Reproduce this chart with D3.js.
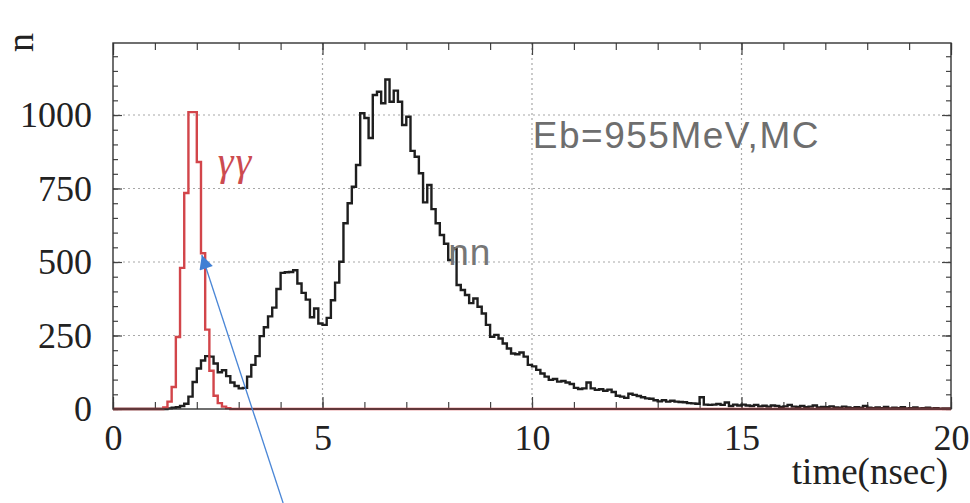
<!DOCTYPE html>
<html>

<head>
    <title>timeHist</title>
</head>
<style>
    body {
        margin: 0;
        background: #fff;
    }

    .tick text {
        font-family: "Liberation Serif", "Times New Roman", serif;
        font-size: 36px;
        fill: #222;
    }
</style>

<body>
    <script src="https://d3js.org/d3.v7.min.js"></script>
    <svg width="970" height="503" id="mainsvg"></svg>

    <script>
        // bins of 0.1 nsec from 0 to 20, one row per nsec
        const binWidth = 0.1;
        const timeRange = [0, 20];
        const countMax = 1245;

        const nnCounts = [
            0, 0, 0, 0, 0, 0, 0, 0, 0, 0,
            0, 0, 0, 2, 4, 6, 10, 18, 42, 92,
            138, 165, 180, 178, 155, 125, 132, 112, 90, 78,
            70, 72, 110, 150, 180, 248, 278, 315, 345, 408,
            463, 465, 466, 472, 427, 395, 372, 312, 342, 291,
            286, 310, 370, 430, 501, 632, 700, 756, 830, 1006,
            990, 922, 1068, 1079, 1040, 1121, 1045, 1083, 1045, 966,
            994, 878, 858, 802, 703, 762, 680, 632, 592, 562,
            507, 546, 422, 405, 388, 360, 376, 348, 325, 286,
            246, 252, 240, 223, 206, 189, 186, 192, 178, 150,
            145, 133, 121, 110, 99, 102, 93, 95, 90, 85,
            72, 68, 70, 90, 70, 65, 67, 62, 66, 58,
            45, 42, 38, 52, 48, 44, 40, 36, 35, 30,
            26, 30, 25, 28, 25, 24, 23, 20, 19, 18,
            40, 15, 14, 15, 17, 14, 22, 10, 15, 12,
            15, 12, 10, 14, 9, 11, 8, 12, 10, 7,
            9, 14, 8, 7, 10, 6, 8, 12, 5, 7,
            6, 9, 5, 4, 8, 5, 3, 6, 4, 10,
            4, 3, 5, 3, 7, 2, 4, 3, 6, 2,
            3, 5, 2, 3, 4, 2, 3, 1, 2, 2
        ];

        const ggCounts = [
            0, 0, 0, 0, 0, 0, 0, 0, 0, 0,
            0, 0, 5, 25, 75, 245, 480, 735, 1010, 1010,
            840, 530, 270, 130, 45, 20, 8, 3, 0, 0,
            0, 0, 0, 0, 0, 0, 0, 0, 0, 0,
            0, 0, 0, 0, 0, 0, 0, 0, 0, 0,
            0, 0, 0, 0, 0, 0, 0, 0, 0, 0,
            0, 0, 0, 0, 0, 0, 0, 0, 0, 0,
            0, 0, 0, 0, 0, 0, 0, 0, 0, 0,
            0, 0, 0, 0, 0, 0, 0, 0, 0, 0,
            0, 0, 0, 0, 0, 0, 0, 0, 0, 0,
            0, 0, 0, 0, 0, 0, 0, 0, 0, 0,
            0, 0, 0, 0, 0, 0, 0, 0, 0, 0,
            0, 0, 0, 0, 0, 0, 0, 0, 0, 0,
            0, 0, 0, 0, 0, 0, 0, 0, 0, 0,
            0, 0, 0, 0, 0, 0, 0, 0, 0, 0,
            0, 0, 0, 0, 0, 0, 0, 0, 0, 0,
            0, 0, 0, 0, 0, 0, 0, 0, 0, 0,
            0, 0, 0, 0, 0, 0, 0, 0, 0, 0,
            0, 0, 0, 0, 0, 0, 0, 0, 0, 0,
            0, 0, 0, 0, 0, 0, 0, 0, 0, 0
        ];

        const xMajorTicks = [0, 5, 10, 15, 20];
        const xMinorTicks = [0, 1, 2, 3, 4, 5, 6, 7, 8, 9, 10, 11, 12, 13, 14, 15, 16, 17, 18, 19, 20];
        const yMajorTicks = [0, 250, 500, 750, 1000];
        const yMinorTicks = [0, 50, 100, 150, 200, 250, 300, 350, 400, 450, 500, 550, 600, 650, 700, 750,
            800, 850, 900, 950, 1000, 1050, 1100, 1150, 1200];
        const xGrid = [5, 10, 15];
        const yGrid = [250, 500, 750, 1000];

        // annotation anchors, in data units (time, n)
        const ebLabel = { text: 'Eb=955MeV,MC', t: 10.02, n: 888 };
        const nnLabel = { text: 'nn', t: 8.0, n: 490 };
        const ggLabel = { text: 'γγ', t: 2.5, n: 795 };
        const arrowTip = { t: 2.12, n: 524 };
        const arrowTail = { t: 4.06, n: -320 };

        const svg = d3.select('#mainsvg');
        const margin = { top: 43, right: 19, bottom: 94, left: 113 };
        const width = +svg.attr('width');
        const height = +svg.attr('height');
        const innerWidth = width - margin.left - margin.right;
        const innerHeight = height - margin.top - margin.bottom;

        const g = svg.append('g').attr('id', 'maingroup')
            .attr('transform', `translate(${margin.left}, ${margin.top})`);

        const xScale = d3.scaleLinear().domain(timeRange).range([0, innerWidth]);
        const yScale = d3.scaleLinear().domain([0, countMax]).range([innerHeight, 0]);

        // dotted grid
        g.selectAll('.vgrid').data(xGrid).join('line')
            .attr('class', 'vgrid')
            .attr('x1', d => xScale(d)).attr('x2', d => xScale(d))
            .attr('y1', 0).attr('y2', innerHeight)
            .attr('stroke', '#a8a8a8').attr('stroke-width', 1.2)
            .attr('stroke-dasharray', '2,3');
        g.selectAll('.hgrid').data(yGrid).join('line')
            .attr('class', 'hgrid')
            .attr('x1', 0).attr('x2', innerWidth)
            .attr('y1', d => yScale(d)).attr('y2', d => yScale(d))
            .attr('stroke', '#a8a8a8').attr('stroke-width', 1.2)
            .attr('stroke-dasharray', '2,3');

        // ticks point inwards on all four sides
        const tickGroup = function (axis, tx, ty) {
            const a = g.append('g').attr('transform', `translate(${tx}, ${ty})`).call(axis);
            a.select('.domain').remove();
            a.selectAll('.tick line').attr('stroke', '#444').attr('stroke-width', 1.2);
            return a;
        };
        const minorOnly = function (axis, tx, ty) {
            const a = tickGroup(axis, tx, ty);
            a.selectAll('.tick text').remove();
            return a;
        };
        minorOnly(d3.axisBottom(xScale).tickValues(xMinorTicks).tickSize(-7), 0, innerHeight);
        minorOnly(d3.axisTop(xScale).tickValues(xMinorTicks).tickSize(-7), 0, 0);
        minorOnly(d3.axisLeft(yScale).tickValues(yMinorTicks).tickSize(-5), 0, 0);
        minorOnly(d3.axisRight(yScale).tickValues(yMinorTicks).tickSize(-5), innerWidth, 0);
        minorOnly(d3.axisTop(xScale).tickValues(xMajorTicks).tickSize(-12), 0, 0);
        minorOnly(d3.axisRight(yScale).tickValues(yMajorTicks).tickSize(-9), innerWidth, 0);

        const xAxisGroup = tickGroup(d3.axisBottom(xScale).tickValues(xMajorTicks).tickSize(-12)
            .tickPadding(15).tickFormat(d3.format('d')), 0, innerHeight);
        const yAxisGroup = tickGroup(d3.axisLeft(yScale).tickValues(yMajorTicks).tickSize(-9)
            .tickPadding(21).tickFormat(d3.format('d')), 0, 0);

        // histograms as steps
        const stepLine = d3.line()
            .x(d => xScale(d.t))
            .y(d => yScale(d.n))
            .curve(d3.curveStepAfter);
        const toSteps = counts => {
            const pts = counts.map((c, i) => ({ t: timeRange[0] + i * binWidth, n: c }));
            pts.push({ t: timeRange[1], n: counts[counts.length - 1] });
            return pts;
        };

        g.append('path')
            .datum(toSteps(nnCounts))
            .attr('fill', 'none')
            .attr('stroke', '#1e1e1e')
            .attr('stroke-width', 2.4)
            .attr('stroke-linejoin', 'miter')
            .attr('d', stepLine);

        g.append('path')
            .datum(toSteps(ggCounts))
            .attr('fill', 'none')
            .attr('stroke', '#d2454a')
            .attr('stroke-width', 2.4)
            .attr('stroke-linejoin', 'miter')
            .attr('d', stepLine);

        // frame
        g.append('rect')
            .attr('width', innerWidth).attr('height', innerHeight)
            .attr('fill', 'none').attr('stroke', '#333').attr('stroke-width', 1.4);

        // text in the plot
        g.append('text')
            .attr('x', xScale(ebLabel.t)).attr('y', yScale(ebLabel.n))
            .attr('font-family', '"Liberation Sans", Arial, sans-serif')
            .attr('font-size', '37px')
            .attr('letter-spacing', '1.5px')
            .attr('fill', '#6e6e6e')
            .text(ebLabel.text);

        g.append('text')
            .attr('x', xScale(nnLabel.t)).attr('y', yScale(nnLabel.n))
            .attr('font-family', '"Liberation Sans", Arial, sans-serif')
            .attr('font-size', '37px')
            .attr('letter-spacing', '1px')
            .attr('fill', '#767676')
            .text(nnLabel.text);

        g.append('text')
            .attr('x', xScale(ggLabel.t)).attr('y', yScale(ggLabel.n))
            .attr('font-family', '"Liberation Serif", "Times New Roman", serif')
            .attr('font-style', 'italic')
            .attr('font-size', '40px')
            .attr('letter-spacing', '2px')
            .attr('fill', '#cc4b50')
            .text(ggLabel.text);

        // axis titles
        svg.append('text')
            .attr('transform', 'translate(33, 52) rotate(-90)')
            .attr('font-family', '"Liberation Serif", "Times New Roman", serif')
            .attr('font-size', '38px')
            .attr('fill', '#222')
            .text('n');

        svg.append('text')
            .attr('x', 948).attr('y', 484)
            .attr('text-anchor', 'end')
            .attr('font-family', '"Liberation Serif", "Times New Roman", serif')
            .attr('font-size', '37px')
            .attr('fill', '#222')
            .text('time(nsec)');

        // blue pointer arrow
        svg.append('defs').append('marker')
            .attr('id', 'head')
            .attr('viewBox', '0 0 10 10')
            .attr('refX', 10).attr('refY', 5)
            .attr('markerWidth', 18).attr('markerHeight', 14)
            .attr('markerUnits', 'userSpaceOnUse')
            .attr('orient', 'auto')
            .append('path')
            .attr('d', 'M0,0 L10,5 L0,10 Z')
            .attr('fill', '#3f7fd4');

        g.append('line')
            .attr('x1', xScale(arrowTail.t)).attr('y1', yScale(arrowTail.n))
            .attr('x2', xScale(arrowTip.t)).attr('y2', yScale(arrowTip.n))
            .attr('stroke', '#4a86d6')
            .attr('stroke-width', 1.3)
            .attr('marker-end', 'url(#head)');
    </script>
</body>

</html>
